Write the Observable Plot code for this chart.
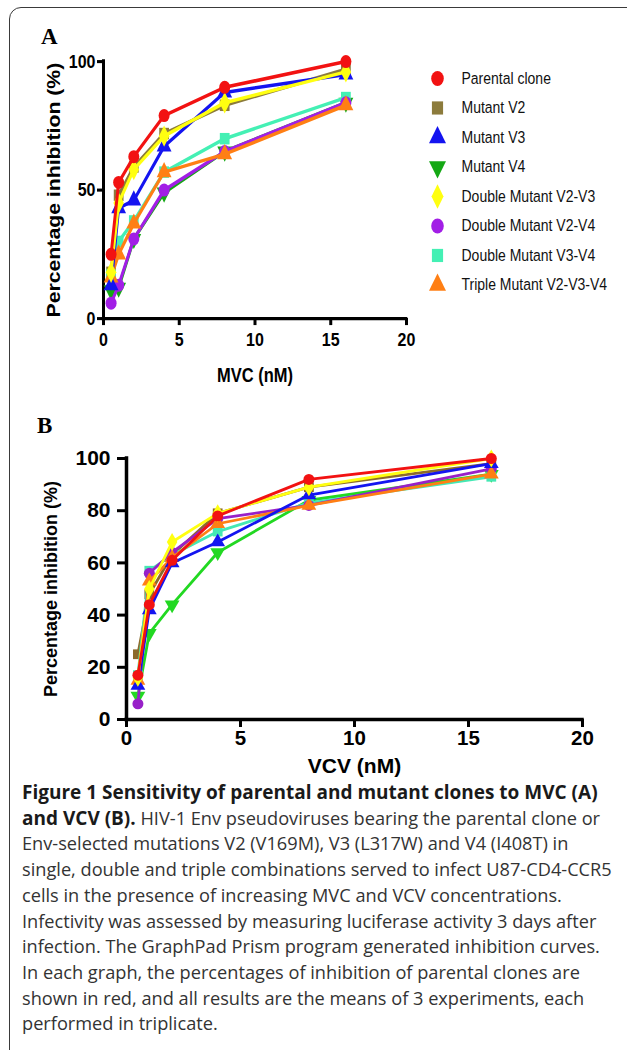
<!DOCTYPE html>
<html>
<head>
<meta charset="utf-8">
<script src="https://cdn.jsdelivr.net/npm/d3@7"></script>
<script src="https://cdn.jsdelivr.net/npm/@observablehq/plot@0.6"></script>
<style>
  html, body { margin: 0; padding: 0; background: #fff; }
  body { width: 627px; height: 1050px; position: relative; overflow: hidden; }
  .frame { position: absolute; left: 9px; top: 7px; width: 640px; height: 1100px;
           border: 1.5px solid #3a3a3a; border-radius: 12px; box-sizing: border-box; }
  .panel-letter { position: absolute; font-family: "Liberation Serif", serif; font-weight: bold;
                  font-size: 23px; color: #000; line-height: 1; }
  .abs { position: absolute; }
  #panelA { position: absolute; left: 0; top: 0; width: 627px; height: 340px;
            transform: scaleY(1.18); transform-origin: 0 0; }
  .caption { position: absolute; left: 22px; top: 780px; font-family: "Open Sans", sans-serif;
             font-size: 18.2px; line-height: 25.7px; color: #333; white-space: nowrap; }
  .caption b { color: #1a1a1a; font-weight: 700; font-size: 19px; }
</style>
</head>
<body>
<div class="frame"></div>
<div class="panel-letter" style="left:41px; top:25px;">A</div>
<div class="panel-letter" style="left:37px; top:414px;">B</div>
<div id="panelA">
  <div id="chartA" class="abs" style="left:0; top:0;"></div>
  <div id="legendA" class="abs" style="left:420px; top:52.5px;"></div>
</div>
<div id="chartB" class="abs" style="left:0; top:440px;"></div>
<div class="caption">
<b>Figure 1 Sensitivity of parental and mutant clones to MVC (A)</b><br>
<b>and VCV (B).</b> HIV-1 Env pseudoviruses bearing the parental clone or<br>
Env-selected mutations V2 (V169M), V3 (L317W) and V4 (I408T) in<br>
single, double and triple combinations served to infect U87-CD4-CCR5<br>
cells in the presence of increasing MVC and VCV concentrations.<br>
Infectivity was assessed by measuring luciferase activity 3 days after<br>
infection. The GraphPad Prism program generated inhibition curves.<br>
In each graph, the percentages of inhibition of parental clones are<br>
shown in red, and all results are the means of 3 experiments, each<br>
performed in triplicate.
</div>
<script>
// ---------- data ----------
const doses = [0.5, 1, 2, 4, 8, 16];
const seriesNames = ["Parental clone", "Mutant V2", "Mutant V3", "Mutant V4",
  "Double Mutant V2-V3", "Double Mutant V2-V4", "Double Mutant V3-V4", "Triple Mutant V2-V3-V4"];
const seriesSymbols = ["circle", "square", "triangle", "triangle", "diamond", "circle", "square", "triangle"];
const seriesRotate = [0, 0, 0, 180, 0, 0, 0, 0];
const colorsA = ["#f21212", "#8c7b3c", "#1414f0", "#14a814", "#ffff10", "#a21ee6", "#44f0b4", "#ff7f14"];
const colorsB = ["#f21212", "#8c6a2a", "#1414f0", "#22d822", "#ffff10", "#9820c8", "#44e8b4", "#ff7f14"];

// MVC (panel A), % inhibition at each dose
const mvcParental = [25, 53, 63, 79, 90, 100];
const mvcV2       = [18, 48, 59, 72, 83, 97];
const mvcV3       = [13, 43, 46, 67, 88, 95];
const mvcV4       = [11, 12, 31, 49, 65, 84];
const mvcV2V3     = [18, 45, 58, 71, 84, 96];
const mvcV2V4     = [6, 13, 31, 50, 65, 84];
const mvcV3V4     = [17, 30, 38, 57, 70, 86];
const mvcTriple   = [16, 25, 37, 57, 64, 83];

// VCV (panel B), % inhibition at each dose
const vcvParental = [17, 44, 61, 78, 92, 100];
const vcvV2       = [25, 48, 63, 79, 89, 98];
const vcvV3       = [13, 42, 60, 68, 86, 98];
const vcvV4       = [9, 33, 44, 64, 84, 94];
const vcvV2V3     = [16, 50, 68, 79, 89, 100];
const vcvV2V4     = [6, 56, 64, 77, 82, 96];
const vcvV3V4     = [17, 57, 63, 72, 83, 93];
const vcvTriple   = [15, 53, 62, 75, 82, 94];

const xTicks = [0, 5, 10, 15, 20];
const yTicksA = [0, 50, 100];
const yTicksB = [0, 20, 40, 60, 80, 100];
const xLabelA = "MVC (nM)";
const xLabelB = "VCV (nM)";
const yLabel = "Percentage inhibition (%)";
const drawOrder = [3, 1, 6, 5, 7, 2, 4, 0];

const mvcSeries = [mvcParental, mvcV2, mvcV3, mvcV4, mvcV2V3, mvcV2V4, mvcV3V4, mvcTriple];
const vcvSeries = [vcvParental, vcvV2, vcvV3, vcvV4, vcvV2V3, vcvV2V4, vcvV3V4, vcvTriple];

function seriesMarks(seriesValues, colors, lineW, r) {
  const marks = [];
  for (const i of drawOrder) {
    const data = doses.map((d, j) => ({dose: d, value: seriesValues[i][j]}));
    marks.push(Plot.line(data, {x: "dose", y: "value", stroke: colors[i], strokeWidth: lineW,
      strokeLinejoin: "round", strokeLinecap: "round"}));
    marks.push(Plot.dot(data, {x: "dose", y: "value", fill: colors[i], stroke: "none",
      symbol: seriesSymbols[i], rotate: seriesRotate[i], r}));
  }
  return marks;
}

const sans = "'Liberation Sans', Arial, sans-serif";

// ---------- Panel A (drawn compressed, stretched vertically by CSS like the source) ----------
const chartA = Plot.plot({
  width: 420, height: 340,
  marginLeft: 103, marginRight: 14, marginTop: 51.7, marginBottom: 70.5,
  style: {fontFamily: sans, color: "#000", background: "transparent", overflow: "visible"},
  x: {domain: [0, 20], label: null},
  y: {domain: [0, 100], label: null},
  marks: [
    Plot.axisX({ticks: xTicks, tickSize: 6, tickPadding: 6, strokeWidth: 3, fontSize: 16,
      fontWeight: "bold", label: null}),
    Plot.axisY({ticks: yTicksA, tickSize: 6, tickPadding: 2, strokeWidth: 2.6, fontSize: 16,
      fontWeight: "bold", label: null}),
    Plot.ruleY([0], {strokeWidth: 2.6, strokeLinecap: "square"}),
    Plot.ruleX([0], {strokeWidth: 3, strokeLinecap: "square"}),
    ...seriesMarks(mvcSeries, colorsA, 3, 5.5),
    Plot.text([xLabelA], {frameAnchor: "bottom", dy: 48.3, text: d => d, fontSize: 16.5,
      fontWeight: "bold", textAnchor: "middle", lineAnchor: "middle"}),
    Plot.text([yLabel], {frameAnchor: "left", dx: -49, rotate: -90, text: d => d, fontSize: 18,
      fontWeight: "bold", textAnchor: "middle", lineAnchor: "middle"})
  ]
});
document.getElementById("chartA").append(chartA);

// ---------- Legend (panel A) ----------
const legendData = seriesNames.map((name, i) => ({name, i}));
const legendA = Plot.plot({
  width: 207, height: 205, margin: 0,
  style: {fontFamily: sans, background: "transparent", overflow: "visible"},
  x: {domain: [0, 1], range: [17, 41], axis: null},
  y: {type: "point", domain: seriesNames, range: [12.8, 188.2], padding: 0, axis: null},
  marks: [
    ...legendData.map(d => Plot.dot([d], {x: () => 0, y: "name", fill: colorsA[d.i], stroke: "none",
      symbol: seriesSymbols[d.i], rotate: seriesRotate[d.i], r: 6.3})),
    Plot.text(legendData, {x: () => 1, y: "name", text: "name", textAnchor: "start",
      fontSize: 14, fill: "#111"})
  ]
});
document.getElementById("legendA").append(legendA);

// ---------- Panel B ----------
const chartB = Plot.plot({
  width: 627, height: 350,
  marginLeft: 126, marginRight: 45, marginTop: 18, marginBottom: 71,
  style: {fontFamily: sans, color: "#000", background: "transparent", overflow: "visible"},
  x: {domain: [0, 20], label: null},
  y: {domain: [0, 100], label: null},
  marks: [
    Plot.axisX({ticks: xTicks, tickSize: 8, tickPadding: 3, strokeWidth: 3, fontSize: 20.5,
      fontWeight: "bold", label: null}),
    Plot.axisY({ticks: yTicksB, tickSize: 9, tickPadding: 7, strokeWidth: 3, fontSize: 21,
      fontWeight: "bold", label: null}),
    Plot.ruleY([0], {strokeWidth: 3.5, strokeLinecap: "square"}),
    Plot.ruleX([0], {strokeWidth: 3.5, strokeLinecap: "square"}),
    ...seriesMarks(vcvSeries, colorsB, 2.8, 5.5),
    Plot.text([xLabelB], {frameAnchor: "bottom", dy: 47, text: d => d, fontSize: 21,
      fontWeight: "bold", textAnchor: "middle", lineAnchor: "middle"}),
    Plot.text([yLabel], {frameAnchor: "left", dx: -75, rotate: -90, text: d => d, fontSize: 18,
      fontWeight: "bold", textAnchor: "middle", lineAnchor: "middle"})
  ]
});
document.getElementById("chartB").append(chartB);
</script>
</body>
</html>
